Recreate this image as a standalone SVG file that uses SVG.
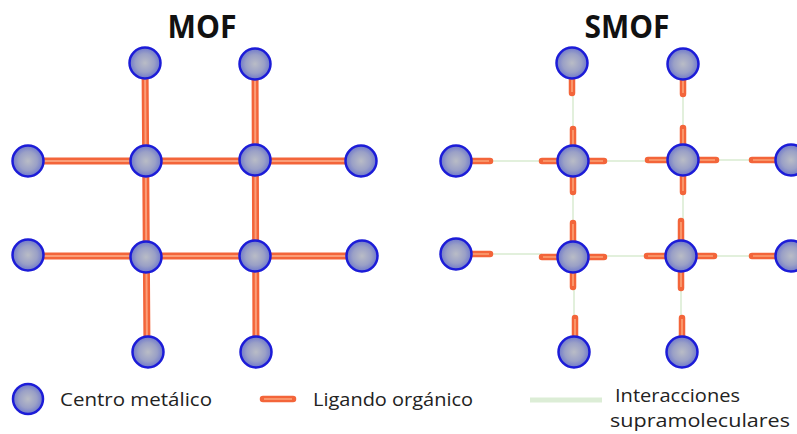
<svg xmlns="http://www.w3.org/2000/svg" width="797" height="434" viewBox="0 0 797 434">
  <defs>
    <radialGradient id="metal" cx="0.5" cy="0.5" r="0.5">
      <stop offset="0" stop-color="#b9bcc6"/>
      <stop offset="0.6" stop-color="#9aa0c6"/>
      <stop offset="1" stop-color="#6e78cc"/>
    </radialGradient>
    <style>
      .title { font-family: "Open Sans", "Liberation Sans", sans-serif; font-weight: bold; font-size: 32px; fill: #111; }
      .label { font-family: "Open Sans", "Liberation Sans", sans-serif; font-size: 19px; fill: #222; }
      .node circle { fill: url(#metal); stroke: #1c1cd8; stroke-width: 2.5; }
      .lig { stroke: #f3653a; stroke-width: 7; fill: none; }
      .lig-hi { stroke: #fb9e78; stroke-width: 2; fill: none; }
      .stub { stroke: #f3653a; stroke-width: 6.5; fill: none; stroke-linecap: round; }
      .stub-hi { stroke: #fca276; stroke-width: 1.6; fill: none; }
      .supra { stroke: #e2f0dc; stroke-width: 2; fill: none; }
    </style>
  </defs>

  <rect width="797" height="434" fill="#ffffff"/>

  <!-- titles -->
  <text class="title" x="202" y="38" text-anchor="middle" textLength="69" lengthAdjust="spacingAndGlyphs">MOF</text>
  <text class="title" x="627" y="38" text-anchor="middle" textLength="85" lengthAdjust="spacingAndGlyphs">SMOF</text>

  <!-- connectors -->
  <g id="connectors">
    <!-- MOF: continuous organic linkers -->
    <g id="mof-links">
      <path class="lig" d="M28 161 H362 M28 256 H362 M145 63 L147 352 M255 64 L256 352"/>
      <path class="lig-hi" d="M28 161 H362 M28 256 H362 M145 63 L147 352 M255 64 L256 352"/>
    </g>
    <!-- SMOF: supramolecular contacts between linker ends -->
    <g id="smof-supra">
      <path class="supra" d="M492 161 H542 M604 161 H648 M717 160 H750 M492 254 H542 M604 256 H646 M714 256 H750 M573 93 V128 M573 192 V222 M574 287 V317 M683 94 V128 M683 192 V221 M681 287 V317"/>
    </g>
    <!-- SMOF: linker stubs -->
    <g id="smof-stubs">
      <path class="stub" d="M456 161 H490 M456 254 H490 M542 161 H604 M573 129 V192 M542 257 H604 M573 223 V287 M572 63 V93 M575 352 V318 M648 160 H716 M683 128 V192 M647 256 H714 M681 221 V288 M683 64 V94 M682 352 V318 M791 160 H752 M791 256 H752"/>
      <path class="stub-hi" d="M456 161 H489 M456 254 H489 M543 161 H603 M573 130 V191 M543 257 H603 M573 224 V286 M572 63 V92 M575 352 V319 M649 160 H715 M683 129 V191 M648 256 H713 M681 222 V287 M683 64 V93 M682 352 V319 M791 160 H753 M791 256 H753"/>
    </g>
  </g>

  <!-- MOF metal centres -->
  <g id="mof-n-top1" class="node"><circle cx="145" cy="63" r="15.5"/></g>
  <g id="mof-n-top2" class="node"><circle cx="255" cy="64" r="15.5"/></g>
  <g id="mof-n-r1c0" class="node"><circle cx="28" cy="161" r="15.5"/></g>
  <g id="mof-n-r1c1" class="node"><circle cx="146" cy="161" r="15.5"/></g>
  <g id="mof-n-r1c2" class="node"><circle cx="255" cy="160" r="15.5"/></g>
  <g id="mof-n-r1c3" class="node"><circle cx="361" cy="161" r="15.5"/></g>
  <g id="mof-n-r2c0" class="node"><circle cx="28" cy="255" r="15.5"/></g>
  <g id="mof-n-r2c1" class="node"><circle cx="146" cy="257" r="15.5"/></g>
  <g id="mof-n-r2c2" class="node"><circle cx="255" cy="256" r="15.5"/></g>
  <g id="mof-n-r2c3" class="node"><circle cx="362" cy="256" r="15.5"/></g>
  <g id="mof-n-bot1" class="node"><circle cx="148" cy="352" r="15.5"/></g>
  <g id="mof-n-bot2" class="node"><circle cx="256" cy="352" r="15.5"/></g>

  <!-- SMOF metal centres -->
  <g id="smof-n-top1" class="node"><circle cx="572" cy="63" r="15.5"/></g>
  <g id="smof-n-top2" class="node"><circle cx="683" cy="64" r="15.5"/></g>
  <g id="smof-n-r1c0" class="node"><circle cx="456" cy="161" r="15.5"/></g>
  <g id="smof-n-r1c1" class="node"><circle cx="573" cy="161" r="15.5"/></g>
  <g id="smof-n-r1c2" class="node"><circle cx="683" cy="160" r="15.5"/></g>
  <g id="smof-n-r1c3" class="node"><circle cx="791" cy="160" r="15.5"/></g>
  <g id="smof-n-r2c0" class="node"><circle cx="456" cy="254" r="15.5"/></g>
  <g id="smof-n-r2c1" class="node"><circle cx="573" cy="257" r="15.5"/></g>
  <g id="smof-n-r2c2" class="node"><circle cx="681" cy="256" r="15.5"/></g>
  <g id="smof-n-r2c3" class="node"><circle cx="791" cy="256" r="15.5"/></g>
  <g id="smof-n-bot1" class="node"><circle cx="574" cy="352" r="15.5"/></g>
  <g id="smof-n-bot2" class="node"><circle cx="682" cy="352" r="15.5"/></g>

  <!-- legend -->
  <g id="legend">
    <g id="legend-metal" class="node"><circle cx="28" cy="399" r="15"/></g>
    <text class="label" x="60" y="406" textLength="152" lengthAdjust="spacingAndGlyphs">Centro metálico</text>
    <line class="stub" x1="263" y1="399" x2="293" y2="399"/>
    <line class="stub-hi" x1="264" y1="399" x2="292" y2="399"/>
    <text class="label" x="313" y="406" textLength="160" lengthAdjust="spacingAndGlyphs">Ligando orgánico</text>
    <line x1="530" y1="400" x2="602" y2="400" stroke="#dcedd6" stroke-width="5"/>
    <text class="label" x="615" y="402" textLength="125" lengthAdjust="spacingAndGlyphs">Interacciones</text>
    <text class="label" x="610" y="427" textLength="180" lengthAdjust="spacingAndGlyphs">supramoleculares</text>
  </g>
</svg>
